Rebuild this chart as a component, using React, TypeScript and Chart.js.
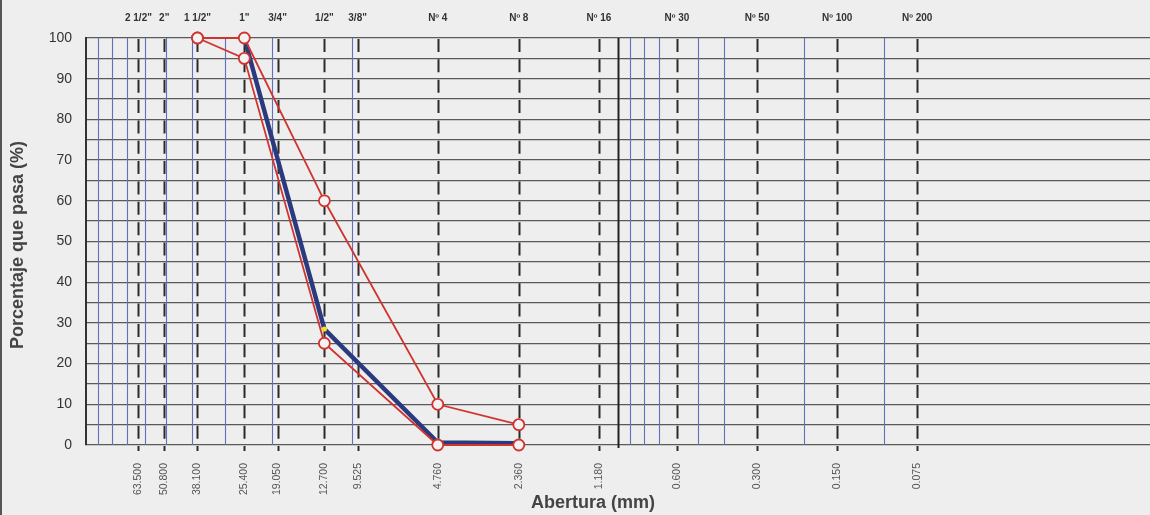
import React, { useEffect, useRef } from 'react';
import { Chart, registerables } from 'chart.js';
Chart.register(...registerables);

// Sieve openings (mm) and their names
const sieveSizes = [63.5, 50.8, 38.1, 25.4, 19.05, 12.7, 9.525, 4.76, 2.36, 1.18, 0.6, 0.3, 0.15, 0.075];
const sieveNames = ['2 1/2"', '2"', '1 1/2"', '1"', '3/4"', '1/2"', '3/8"', 'Nº 4', 'Nº 8', 'Nº 16', 'Nº 30', 'Nº 50', 'Nº 100', 'Nº 200'];
const sieveLabels = ['63.500', '50.800', '38.100', '25.400', '19.050', '12.700', '9.525', '4.760', '2.360', '1.180', '0.600', '0.300', '0.150', '0.075'];
const minorGrid = [90, 80, 70, 60, 50, 40, 30, 20, 10, 0.9, 0.8, 0.7, 0.5, 0.4, 0.2, 0.1];
const decadeLine = [1];

// Specification limits
const upperSizes = [38.1, 25.4, 12.7, 4.76, 2.36];
const upperPass = [100, 100, 60, 10, 5];
const lowerSizes = [38.1, 25.4, 12.7, 4.76, 2.36];
const lowerPass = [100, 95, 25, 0, 0];
// Sample gradation
const sampleSizes = [25.4, 12.7, 4.76, 2.36];
const samplePass = [100, 28.5, 0.6, 0.4];

const yTitle = 'Porcentaje que pasa (%)';
const xTitle = 'Abertura (mm)';

const FONT = '"Liberation Sans", Arial, sans-serif';

export default function App() {
  const ref = useRef<HTMLCanvasElement>(null);
  useEffect(() => {
    document.body.style.margin = '0';
    const canvas = ref.current!;
    const pts = (xs: number[], ys: number[]) => xs.map((x, i) => ({ x, y: ys[i] }));

    const gridPlugin = {
      id: 'sieveGrid',
      beforeDatasetsDraw(chart: any) {
        const { ctx, chartArea: a, scales } = chart;
        const x = scales.x;
        ctx.save();
        const vline = (v: number, y0: number, y1: number) => {
          const px = Math.round(x.getPixelForValue(v)) + 0.5;
          ctx.beginPath();
          ctx.moveTo(px, y0);
          ctx.lineTo(px, y1);
          ctx.stroke();
        };
        ctx.strokeStyle = '#6170ba';
        ctx.lineWidth = 1.1;
        minorGrid.forEach((v) => vline(v, a.top, a.bottom));
        ctx.strokeStyle = '#222';
        ctx.lineWidth = 2;
        decadeLine.forEach((v) => vline(v, a.top, a.bottom + 3));
        ctx.strokeStyle = '#2a2a2a';
        ctx.lineWidth = 2;
        ctx.setLineDash([13, 7.35]);
        ctx.lineDashOffset = -1;
        sieveSizes.forEach((v) => vline(v, a.top, a.bottom + 6));
        ctx.restore();
      },
      afterDraw(chart: any) {
        const { ctx, chartArea: a, scales } = chart;
        const x = scales.x;
        ctx.save();
        // scan edge
        ctx.fillStyle = '#555';
        ctx.fillRect(0, 0, 2, chart.height);
        // top sieve names
        ctx.fillStyle = '#333';
        ctx.font = `bold 10px ${FONT}`;
        ctx.textAlign = 'center';
        ctx.textBaseline = 'middle';
        sieveSizes.forEach((v, i) => ctx.fillText(sieveNames[i], x.getPixelForValue(v), 18));
        // bottom opening labels (rotated)
        ctx.fillStyle = '#555';
        ctx.font = `10.5px ${FONT}`;
        sieveSizes.forEach((v, i) => {
          ctx.save();
          ctx.translate(x.getPixelForValue(v), a.bottom + 18);
          ctx.rotate(-Math.PI / 2);
          ctx.textAlign = 'right';
          ctx.textBaseline = 'middle';
          ctx.fillText(sieveLabels[i], 0, 0);
          ctx.restore();
        });
        // axis titles
        ctx.fillStyle = '#444';
        ctx.font = `bold 18px ${FONT}`;
        ctx.textAlign = 'center';
        ctx.textBaseline = 'middle';
        ctx.fillText(xTitle, 593, 503);
        ctx.save();
        ctx.translate(18, 245);
        ctx.rotate(-Math.PI / 2);
        ctx.fillText(yTitle, 0, 0);
        ctx.restore();
        ctx.restore();
      },
    };

    const redPoint = {
      pointRadius: 5.5,
      pointBorderWidth: 1.8,
      pointBackgroundColor: '#f6f2f2',
      pointBorderColor: '#d0342f',
    };

    const chart = new Chart(canvas, {
      type: 'line',
      data: {
        datasets: [
          {
            label: 'Sample',
            data: pts(sampleSizes, samplePass),
            borderColor: '#2b3a7e',
            borderWidth: 4.5,
            pointRadius: 2.6,
            pointBorderWidth: 0,
            pointBackgroundColor: '#f2e21c',
            clip: false,
            order: 3,
          } as any,
          {
            label: 'Upper',
            data: pts(upperSizes, upperPass),
            borderColor: '#d0342f',
            borderWidth: 1.8,
            ...redPoint,
            clip: false,
            order: 1,
          },
          {
            label: 'Lower',
            data: pts(lowerSizes, lowerPass),
            borderColor: '#d0342f',
            borderWidth: 1.8,
            ...redPoint,
            clip: false,
            order: 2,
          },
        ],
      },
      options: {
        animation: false,
        responsive: false,
        devicePixelRatio: 1,
        layout: { autoPadding: false, padding: { top: 38, bottom: 70, left: 0, right: 0 } },
        plugins: { legend: { display: false }, tooltip: { enabled: false } },
        scales: {
          x: {
            type: 'logarithmic',
            min: 0.01,
            max: 100,
            reverse: true,
            display: false,
          },
          y: {
            min: 0,
            max: 100,
            afterFit: (s: any) => {
              s.width = 86;
            },
            ticks: {
              stepSize: 5,
              padding: 14,
              color: '#333',
              font: { family: FONT, size: 14 },
              callback: (v: any) => (Number(v) % 10 === 0 ? String(v) : ''),
            },
            grid: { color: '#5a5a5a', lineWidth: 1.3, drawTicks: false },
            border: { display: true, color: '#333', width: 2 },
          },
        },
      },
      plugins: [gridPlugin],
    } as any);
    return () => chart.destroy();
  }, []);

  return (
    <div style={{ width: 1150, height: 515, background: '#eeeeee' }}>
      <canvas ref={ref} width={1150} height={515} style={{ display: 'block' }} />
    </div>
  );
}
